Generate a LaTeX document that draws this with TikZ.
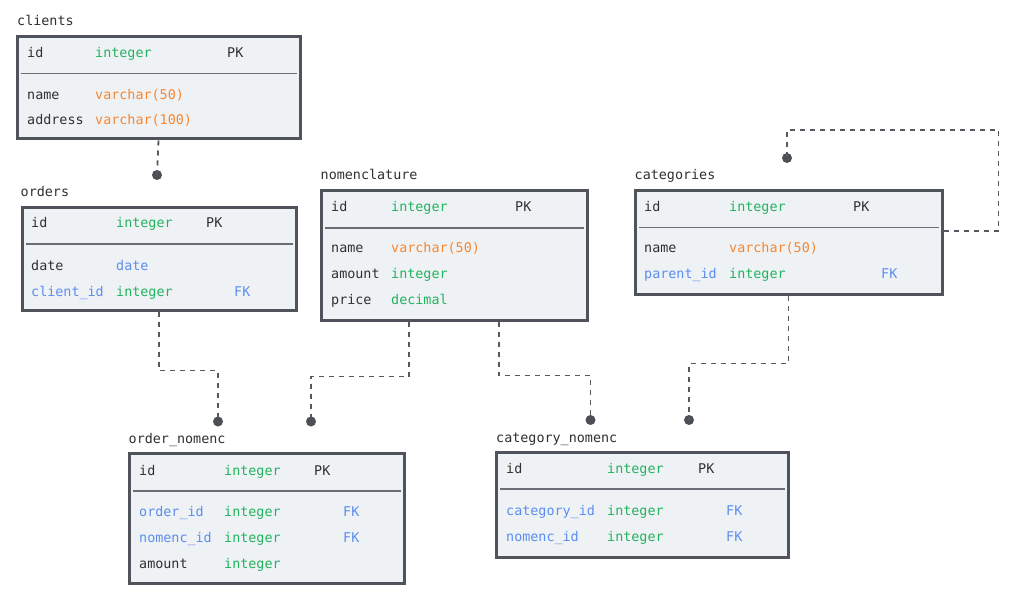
\documentclass[tikz,border=0pt]{standalone}
\usepackage{fontspec}
\newfontfamily\dbmono{DejaVu Sans Mono}
\definecolor{ink}{HTML}{303030}
\definecolor{tgreen}{HTML}{22B35E}
\definecolor{torange}{HTML}{F7862F}
\definecolor{tblue}{HTML}{5B8DEF}
\definecolor{frame}{HTML}{50535C}
\definecolor{panel}{HTML}{EFF2F5}
\definecolor{rule}{HTML}{6A6D75}
\definecolor{link}{HTML}{55585F}
\tikzset{
  tbl/.style={draw=frame, fill=panel, line width=3pt, rectangle, inner sep=0pt, anchor=north west},
  txt/.style={inner sep=0pt, anchor=base west, font=\dbmono\fontsize{13.4}{16}\selectfont, text=ink},
  ttl/.style={txt},
  ty/.style={txt, text=tgreen},
  tyo/.style={txt, text=torange},
  key/.style={txt, text=tblue},
  sepline/.style={draw=rule, line width=1.6pt},
  conn/.style={draw=link, line width=1.8pt, dash pattern=on 5pt off 5pt},
  enddot/.style={circle, fill=link!90!black, inner sep=0pt, minimum size=10pt}
}
\begin{document}
\begin{tikzpicture}[x=1pt,y=-1pt]
\useasboundingbox[fill=white] (0,0) rectangle (1014,612);

% ---- table frames ----
\node[tbl, minimum width=283, minimum height=102] (clients) at (15.5,35.5) {};
\node[tbl, minimum width=274, minimum height=102] (orders) at (20.5,206.5) {};
\node[tbl, minimum width=266, minimum height=129] (nomenclature) at (319.5,189.5) {};
\node[tbl, minimum width=307, minimum height=104] (categories) at (633.5,189) {};
\node[tbl, minimum width=275, minimum height=130] (ordernomenc) at (127.5,452) {};
\node[tbl, minimum width=292, minimum height=105] (catnomenc) at (494.5,450.5) {};

% ---- header separators ----
\foreach \t/\d in {clients/38, orders/37.5, nomenclature/38.5, categories/38.5, ordernomenc/39, catnomenc/38.5}
  \draw[sepline] ([shift={(5,\d)}]\t.north west) -- ([shift={(-5,\d)}]\t.north east);

% ---- clients ----
\node[ttl] (cl-name) at (17,26) {clients};
\node[txt] (cl-r1a) at (27,58) {id};
\node[ty]  (cl-r1b) at (95,58) {integer};
\node[txt] (cl-r1c) at (227,58) {PK};
\node[txt] (cl-r2a) at (27,100) {name};
\node[tyo] (cl-r2b) at (95,100) {varchar(50)};
\node[txt] (cl-r3a) at (27,125) {address};
\node[tyo] (cl-r3b) at (95,125) {varchar(100)};

% ---- orders ----
\node[ttl] (or-name) at (20.5,197) {orders};
\node[txt] (or-r1a) at (31,228) {id};
\node[ty]  (or-r1b) at (116,228) {integer};
\node[txt] (or-r1c) at (206,228) {PK};
\node[txt] (or-r2a) at (31,270) {date};
\node[key] (or-r2b) at (116,270) {date};
\node[key] (or-r3a) at (31,296) {client\_id};
\node[ty]  (or-r3b) at (116,296) {integer};
\node[key] (or-r3c) at (234,296) {FK};

% ---- nomenclature ----
\node[ttl] (no-name) at (320.5,180) {nomenclature};
\node[txt] (no-r1a) at (331,212) {id};
\node[ty]  (no-r1b) at (391,212) {integer};
\node[txt] (no-r1c) at (515,212) {PK};
\node[txt] (no-r2a) at (331,253) {name};
\node[tyo] (no-r2b) at (391,253) {varchar(50)};
\node[txt] (no-r3a) at (331,279) {amount};
\node[ty]  (no-r3b) at (391,279) {integer};
\node[txt] (no-r4a) at (331,305) {price};
\node[ty]  (no-r4b) at (391,305) {decimal};

% ---- categories ----
\node[ttl] (ca-name) at (634.5,180) {categories};
\node[txt] (ca-r1a) at (644,212) {id};
\node[ty]  (ca-r1b) at (729,212) {integer};
\node[txt] (ca-r1c) at (853,212) {PK};
\node[txt] (ca-r2a) at (644,253) {name};
\node[tyo] (ca-r2b) at (729,253) {varchar(50)};
\node[key] (ca-r3a) at (644,279) {parent\_id};
\node[ty]  (ca-r3b) at (729,279) {integer};
\node[key] (ca-r3c) at (881,279) {FK};

% ---- order_nomenc ----
\node[ttl] (on-name) at (128.5,443) {order\_nomenc};
\node[txt] (on-r1a) at (139,475) {id};
\node[ty]  (on-r1b) at (224,475) {integer};
\node[txt] (on-r1c) at (314,475) {PK};
\node[key] (on-r2a) at (139,516) {order\_id};
\node[ty]  (on-r2b) at (224,516) {integer};
\node[key] (on-r2c) at (343,516) {FK};
\node[key] (on-r3a) at (139,542) {nomenc\_id};
\node[ty]  (on-r3b) at (224,542) {integer};
\node[key] (on-r3c) at (343,542) {FK};
\node[txt] (on-r4a) at (139,568) {amount};
\node[ty]  (on-r4b) at (224,568) {integer};

% ---- category_nomenc ----
\node[ttl] (cn-name) at (496,442) {category\_nomenc};
\node[txt] (cn-r1a) at (506,473) {id};
\node[ty]  (cn-r1b) at (607,473) {integer};
\node[txt] (cn-r1c) at (698,473) {PK};
\node[key] (cn-r2a) at (506,515) {category\_id};
\node[ty]  (cn-r2b) at (607,515) {integer};
\node[key] (cn-r2c) at (726,515) {FK};
\node[key] (cn-r3a) at (506,541) {nomenc\_id};
\node[ty]  (cn-r3b) at (607,541) {integer};
\node[key] (cn-r3c) at (726,541) {FK};

% ---- relation end dots ----
\node[enddot] (d1) at (157,175) {};
\node[enddot] (d2) at (218,421.5) {};
\node[enddot] (d3) at (311,421.5) {};
\node[enddot] (d4) at (590.5,420) {};
\node[enddot] (d5) at (689,420) {};
\node[enddot] (d6) at (787,158) {};

% ---- relations ----
\draw[conn] (clients.south) -- (d1.center);
\draw[conn] (orders.south) -- ++(0,59) -| (d2.center);
\draw[conn] ([xshift=-45pt]nomenclature.south) -- ++(0,55) -| (d3.center);
\draw[conn] ([xshift=45pt]nomenclature.south) -- ++(0,54) -| (d4.center);
\draw[conn] (categories.south) -- ++(0,67.5) -| (d5.center);
\draw[conn] ([yshift=11.5pt]categories.east) -- ++(55,0) -- ++(0,-101) -| (d6.center);
\end{tikzpicture}
\end{document}
